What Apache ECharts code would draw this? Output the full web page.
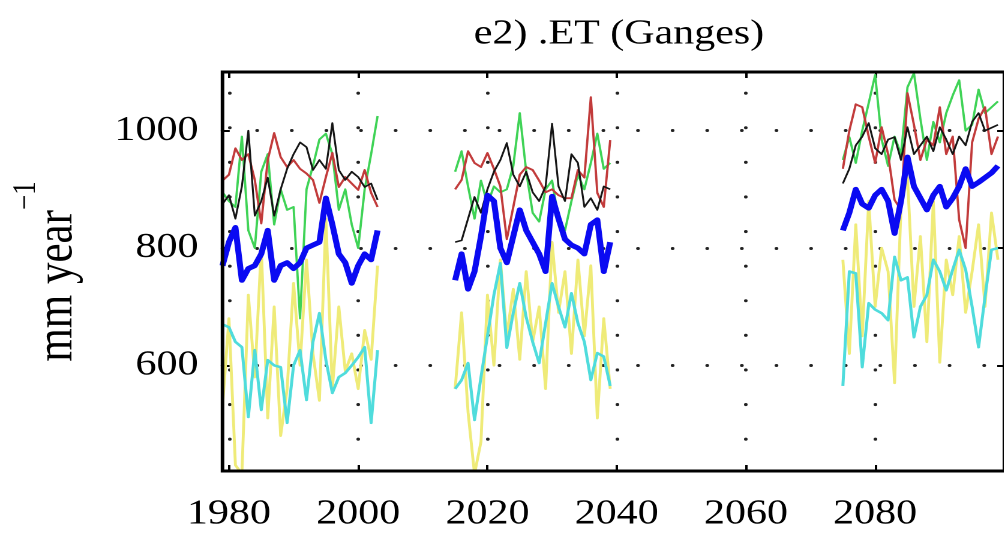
<!DOCTYPE html>
<html>
<head>
<meta charset="utf-8">
<script src="https://cdn.jsdelivr.net/npm/echarts@6/dist/echarts.min.js"></script>
<style>
  html, body { margin: 0; padding: 0; background: #fff; overflow: hidden; }
  /* the figure uses a slightly wide aspect: draw at 837px and stretch horizontally */
  #chart { width: 837px; height: 540px; transform: scaleX(1.2); transform-origin: 0 0; }
</style>
</head>
<body>
<div id="chart"></div>
<script>
// First year of each simulated period (annual values, 25 years each)
const periodStart = [1979, 2015, 2075];

// Ensemble mean ET (mm/year), one array per period
const etMean = [
  [770, 810, 835, 745, 765, 770, 790, 830, 745, 770, 775, 765, 775, 800, 805, 810, 885, 840, 790, 775, 740, 770, 790, 780, 830],
  [745, 790, 730, 760, 820, 890, 880, 800, 775, 820, 865, 830, 810, 790, 760, 888, 850, 815, 805, 800, 790, 840, 848, 760, 810],
  [830, 860, 900, 875, 868, 890, 900, 880, 825, 880, 955, 905, 885, 865, 890, 905, 870, 885, 905, 935, 905, 912, 920, 928, 940]
];
// Individual model runs
const etBlack = [
  [875, 890, 850, 905, 1000, 855, 880, 920, 855, 900, 935, 960, 980, 972, 933, 950, 935, 1013, 933, 916, 930, 921, 904, 910, 882],
  [810, 813, 850, 887, 860, 900, 930, 950, 979, 925, 905, 930, 895, 880, 905, 1012, 905, 880, 960, 945, 870, 885, 865, 905, 900],
  [910, 935, 975, 990, 1013, 970, 960, 985, 989, 950, 1006, 960, 975, 990, 965, 1006, 985, 960, 990, 975, 1015, 1030, 1000, 1005, 1010]
];
const etRed = [
  [915, 925, 970, 950, 960, 916, 842, 950, 996, 955, 938, 950, 935, 927, 916, 877, 921, 962, 904, 921, 910, 899, 933, 894, 870],
  [900, 916, 965, 945, 938, 962, 935, 905, 815, 870, 925, 938, 933, 915, 895, 900, 890, 885, 885, 933, 920, 1057, 894, 870, 984],
  [935, 1000, 1045, 1040, 990, 945, 1006, 960, 882, 865, 1064, 1010, 950, 985, 975, 1040, 960, 990, 848, 800, 980, 1020, 1040, 960, 990]
];
const etGreen = [
  [895, 880, 870, 990, 830, 800, 930, 960, 840, 900, 865, 870, 680, 900, 940, 985, 995, 960, 865, 900, 840, 800, 900, 960, 1025],
  [930, 965, 905, 850, 915, 875, 905, 895, 900, 940, 1030, 930, 860, 845, 900, 915, 850, 830, 880, 925, 900, 945, 995, 935, 945],
  [950, 989, 945, 1000, 1047, 1095, 985, 940, 990, 960, 1074, 1098, 1020, 950, 1015, 980, 1030, 1060, 1086, 1000, 1010, 1070, 1030, 1040, 1050]
];
const etYellow = [
  [530, 680, 430, 415, 720, 580, 800, 510, 700, 480, 560, 740, 600, 780, 620, 540, 850, 560, 700, 590, 620, 560, 660, 610, 770],
  [560, 690, 520, 415, 470, 720, 600, 780, 650, 730, 610, 760, 640, 700, 560, 810, 690, 760, 620, 780, 650, 770, 510, 680, 560],
  [780, 620, 840, 650, 880, 700, 800, 760, 570, 870, 920, 700, 820, 640, 880, 605, 780, 720, 820, 690, 760, 840, 700, 860, 780]
];
const etCyan = [
  [670, 665, 640, 631, 512, 626, 524, 609, 600, 597, 502, 600, 626, 541, 640, 689, 609, 553, 580, 587, 600, 614, 631, 502, 626],
  [560, 575, 604, 507, 580, 650, 720, 774, 630, 690, 740, 682, 640, 604, 672, 740, 700, 665, 723, 672, 640, 575, 621, 615, 565],
  [565, 760, 757, 597, 706, 695, 689, 677, 785, 745, 750, 648, 700, 720, 780, 760, 728, 763, 797, 763, 700, 631, 717, 797, 800]
];

// Axis ticks and labels
const xTicks = [1980, 2000, 2020, 2040, 2060, 2080, 2100];
const xLabels = [1980, 2000, 2020, 2040, 2060, 2080];
const yTicks = [600, 800, 1000];

const serif = 'Liberation Serif';

// drawing order: light colours underneath, ensemble mean on top
const runs = [
  { data: etYellow, color: '#efeb78', width: 2.4 },
  { data: etCyan,   color: '#4fdcdc', width: 2.5 },
  { data: etGreen,  color: '#3fd356', width: 1.9 },
  { data: etRed,    color: '#c23b3b', width: 1.9 },
  { data: etBlack,  color: '#151515', width: 1.6 },
  { data: etMean,   color: '#0a0af2', width: 5 }
];

const series = [];
runs.forEach(function (run, k) {
  run.data.forEach(function (vals, p) {
    series.push({
      type: 'line',
      data: vals.map(function (v, i) { return [periodStart[p] + i, v]; }),
      showSymbol: false,
      symbol: 'none',
      clip: true,
      z: 3 + k,
      lineStyle: { color: run.color, width: run.width, join: 'round' },
      emphasis: { disabled: true },
      silent: true
    });
  });
});

const tickStyle = { color: '#000', width: 2 };

const option = {
  animation: false,
  backgroundColor: '#fff',
  title: {
    text: 'e2) .ET (Ganges)',
    left: 510.8,
    top: 12,
    textAlign: 'center',
    textStyle: { fontFamily: serif, fontSize: 35, fontWeight: 'normal', color: '#000' }
  },
  grid: {
    left: 185.4, top: 72, width: 655.4, height: 399,
    show: true, borderColor: '#000', borderWidth: 3, backgroundColor: 'transparent', z: 10
  },
  xAxis: [
    {
      type: 'value', min: 1979, max: 2100, position: 'bottom',
      axisLine: { show: false },
      axisTick: { inside: true, length: 6, lineStyle: tickStyle, customValues: xTicks },
      axisLabel: {
        customValues: xLabels, formatter: function (v) { return String(v); },
        fontFamily: serif, fontSize: 35, color: '#000', margin: 26
      },
      splitLine: {
        show: true,
        lineStyle: { color: '#222', width: 3, type: [0.1, 34.5], dashOffset: 13.5, cap: 'round' }
      }
    },
    {
      type: 'value', min: 1979, max: 2100, position: 'top',
      axisLine: { show: false },
      axisTick: { inside: true, length: 6, lineStyle: tickStyle, customValues: xTicks },
      axisLabel: { show: false },
      splitLine: { show: false }
    }
  ],
  yAxis: [
    {
      type: 'value', min: 420, max: 1100, position: 'left',
      axisLine: { show: false },
      axisTick: { inside: true, length: 6, lineStyle: tickStyle, customValues: yTicks },
      axisLabel: {
        customValues: yTicks, formatter: function (v) { return String(v); },
        fontFamily: serif, fontSize: 35, color: '#000', margin: 20
      },
      splitLine: {
        show: true,
        lineStyle: { color: '#222', width: 3, type: [0.1, 28.75], cap: 'round' }
      },
      name: '{a|mm year}{b|\u22121}',
      nameLocation: 'middle',
      nameRotate: 90,
      nameGap: 97,
      nameTextStyle: {
        rich: {
          a: { fontFamily: serif, fontSize: 43, lineHeight: 80, color: '#000' },
          b: { fontFamily: serif, fontSize: 27, lineHeight: 27, color: '#000', verticalAlign: 'top' }
        }
      }
    },
    {
      type: 'value', min: 420, max: 1100, position: 'right',
      axisLine: { show: false },
      axisTick: { inside: true, length: 6, lineStyle: tickStyle, customValues: yTicks },
      axisLabel: { show: false },
      splitLine: { show: false }
    }
  ],
  series: series
};

const chart = echarts.init(document.getElementById('chart'), null, { renderer: 'canvas', devicePixelRatio: 2 });
chart.setOption(option);
</script>
</body>
</html>
